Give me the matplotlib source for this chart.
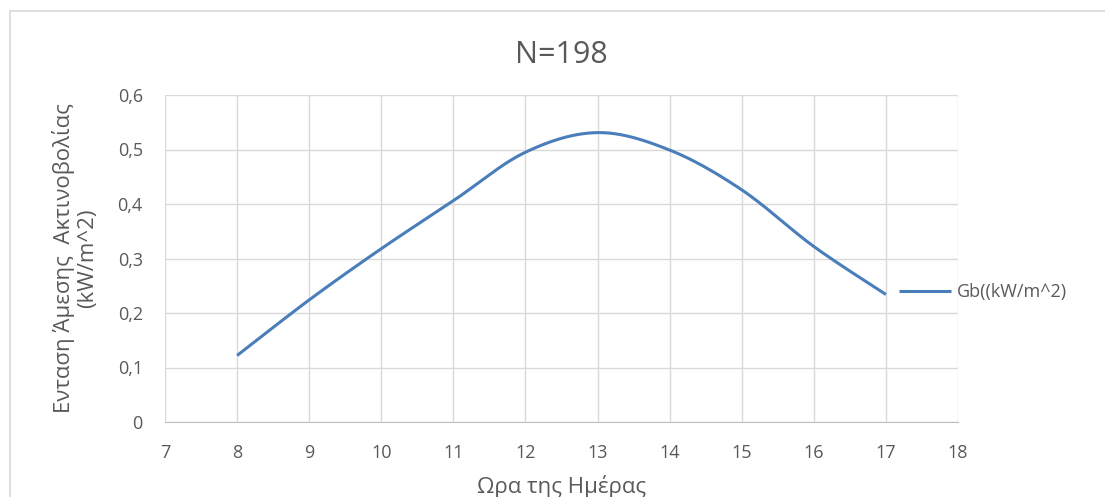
import numpy as np
import matplotlib
matplotlib.use("Agg")
import matplotlib.pyplot as plt
from matplotlib.patches import Rectangle

plt.rcParams['font.family'] = ['Open Sans', 'Noto Sans', 'DejaVu Sans']

# Hourly direct beam irradiance
hours = [8, 9, 10, 11, 12, 13, 14, 15, 16, 17]
gb = [0.122, 0.224, 0.318, 0.406, 0.495, 0.531, 0.499, 0.426, 0.322, 0.234]

title = "N=198"
xlabel = "Ωρα της Ημέρας"
ylabel = "Ενταση Άμεσης  Ακτινοβολίας\n(kW/m^2)"
series_label = "Gb((kW/m^2)"
xticks = list(range(7, 19))
yticks = [0, 0.1, 0.2, 0.3, 0.4, 0.5, 0.6]
yticklabels = ["0", "0,1", "0,2", "0,3", "0,4", "0,5", "0,6"]

line_color = "#4A7EBB"
grid_color = "#D9D9D9"
text_color = "#595959"


def smooth_curve(x, y, n=40):
    """Cubic Bezier smoothing through every point (spreadsheet-style)."""
    p = np.column_stack([x, y]).astype(float)
    ext = np.vstack([p[0], p, p[-1]])
    out = []
    t = np.linspace(0, 1, n)[:, None]
    for i in range(len(p) - 1):
        p0, p3 = p[i], p[i + 1]
        c1 = p0 + (ext[i + 2] - ext[i]) / 6.0
        c2 = p3 - (ext[i + 3] - ext[i + 1]) / 6.0
        seg = ((1 - t) ** 3) * p0 + 3 * ((1 - t) ** 2) * t * c1 + 3 * (1 - t) * t ** 2 * c2 + t ** 3 * p3
        out.append(seg if i == 0 else seg[1:])
    s = np.vstack(out)
    return s[:, 0], s[:, 1]


W, H = 1105, 497
fig = plt.figure(figsize=(W / 100, H / 100), dpi=100)
fig.patches.append(Rectangle((10 / W, -0.05), 1.2, 1 - 11 / H + 0.05,
                             transform=fig.transFigure, fill=False,
                             edgecolor="#D9D9D9", linewidth=1.2, zorder=0))

ax = fig.add_axes([165 / W, 1 - 422 / H, (958 - 165) / W, (422 - 95) / H])

sx, sy = smooth_curve(hours, gb)
ax.plot(sx, sy, color=line_color, linewidth=2.2, label=series_label,
        solid_capstyle="butt", zorder=3)

ax.set_xlim(7, 18)
ax.set_ylim(0, 0.6)
ax.set_xticks(xticks)
ax.set_yticks(yticks)
ax.set_yticklabels(yticklabels)
ax.grid(True, color=grid_color, linewidth=1.0)
ax.set_axisbelow(True)
for side in ["top", "right", "left"]:
    ax.spines[side].set_visible(False)
ax.spines["bottom"].set_color("#BFBFBF")
ax.tick_params(axis="both", length=0, labelsize=13, colors=text_color)
ax.tick_params(axis="y", pad=16)
ax.tick_params(axis="x", pad=16)

fig.text((165 + 958) / 2 / W, 1 - 55 / H, title, fontsize=22,
         color=text_color, ha="center", va="center")

ax.set_xlabel(xlabel, fontsize=16, color=text_color, va="center")
ax.xaxis.set_label_coords(0.5, (422 - 487) / 327)
ax.set_ylabel(ylabel, fontsize=16, color=text_color, va="center",
              ha="center", linespacing=1.15)
ax.yaxis.set_label_coords((75 - 165) / 793, 0.5)

ax.legend(loc="center left", bbox_to_anchor=((899 - 165) / 793, (422 - 292) / 327),
          frameon=False, fontsize=13, labelcolor=text_color, handlelength=2.9,
          handletextpad=0.28, borderaxespad=0, borderpad=0)

fig.savefig("out.png", dpi=100)
